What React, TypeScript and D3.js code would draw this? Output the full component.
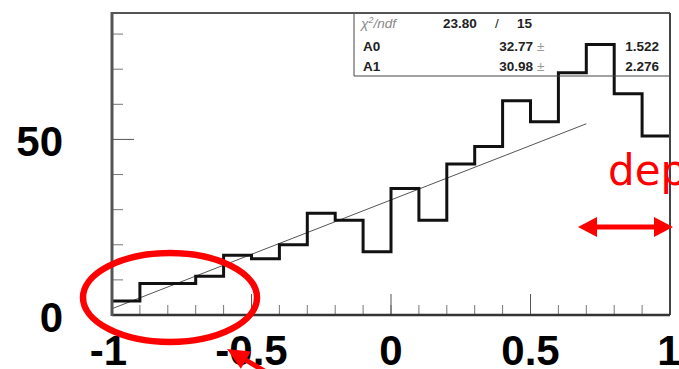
import React from "react";
import * as d3 from "d3";

const binEdges = d3.range(0, 21).map((i) => -1 + i * 0.1);
const counts = [4, 9, 9, 11, 17, 16, 20, 29, 27, 18, 36, 27, 43, 48, 61, 55, 69, 77, 63, 51];
const fitA0 = 32.77;
const fitA1 = 30.98;
const fitRange = [-1, 0.7];
const xTickLabels = [-1, -0.5, 0, 0.5, 1];
const yTickLabels = [0, 50];
const xMinorTicks = d3.range(1, 20).map((i) => -1 + i * 0.1);
const yMinorTicks = [10, 20, 30, 40, 60, 70, 80];
const statsRows = [
  { name: "A0", value: "32.77", err: "1.522" },
  { name: "A1", value: "30.98", err: "2.276" },
];
const chi2 = "23.80";
const ndf = "15";

const W = 679;
const H = 369;
const L = 112, R = 670, T = 13, B = 315;

export default function App() {
  const x = d3.scaleLinear().domain([-1, 1]).range([L, R]);
  const y = d3.scaleLinear().domain([0, 86]).range([B, T]);

  const stepPts: [number, number][] = [];
  counts.forEach((c, i) => {
    stepPts.push([x(binEdges[i]), y(c)]);
    stepPts.push([x(binEdges[i + 1]), y(c)]);
  });
  const stepPath = d3.line()(stepPts) || "";
  const fitPath =
    d3
      .line<number>()
      .x((d) => x(d))
      .y((d) => y(fitA0 + fitA1 * d))(fitRange) || "";

  const fmt = (v: number) => String(v);
  const lab = { fontFamily: "'Liberation Sans', Arial, sans-serif", fontWeight: 700, fontSize: 42, fill: "#000" } as const;
  const st = { fontFamily: "'Liberation Sans', Arial, sans-serif", fontWeight: 700, fontSize: 13.5, fill: "#222" } as const;

  // bottom arrow geometry
  const tip: [number, number] = [227, 349];
  const tail: [number, number] = [266, 372];
  const ang = Math.atan2(tail[1] - tip[1], tail[0] - tip[0]);
  const hl = 22, hw = 10;
  const bx = tip[0] + hl * Math.cos(ang), by = tip[1] + hl * Math.sin(ang);
  const head = [
    tip,
    [bx + hw * Math.sin(ang), by - hw * Math.cos(ang)],
    [bx - hw * Math.sin(ang), by + hw * Math.cos(ang)],
  ];

  const ay = 227;
  const ax1 = 578, ax2 = 673, ahl = 19, ahw = 10;

  return (
    <svg width={W} height={H} style={{ position: "fixed", left: 0, top: 0, background: "#fff" }}>
      <rect x={0} y={0} width={W} height={H} fill="#fff" />
      {/* y ticks */}
      {yMinorTicks.map((v) => (
        <line key={"ym" + v} x1={L} x2={L + 11} y1={y(v)} y2={y(v)} stroke="#777" strokeWidth={1} />
      ))}
      {yTickLabels.map((v) => (
        <line key={"yM" + v} x1={L} x2={L + 22} y1={y(v)} y2={y(v)} stroke="#555" strokeWidth={1} />
      ))}
      {/* x ticks */}
      {xMinorTicks.map((v) => (
        <line key={"xm" + v} x1={x(v)} x2={x(v)} y1={B} y2={B - 10} stroke="#777" strokeWidth={1} />
      ))}
      {xTickLabels.map((v) => (
        <line key={"xM" + v} x1={x(v)} x2={x(v)} y1={B} y2={B - 21} stroke="#555" strokeWidth={1} />
      ))}
      {/* fit line */}
      <path d={fitPath} fill="none" stroke="#555" strokeWidth={1} />
      {/* histogram */}
      <path d={stepPath} fill="none" stroke="#111" strokeWidth={3} strokeLinejoin="miter" />
      {/* stats box */}
      <line x1={354} x2={354} y1={T} y2={76} stroke="#444" strokeWidth={1} />
      <line x1={354} x2={R} y1={76} y2={76} stroke="#444" strokeWidth={1} />
      <text x={361} y={28} style={{ ...st, fontWeight: 400, fontStyle: "italic", fill: "#888" }}>
        χ<tspan dy={-5} fontSize={9}>2</tspan>
        <tspan dy={5}>/ndf</tspan>
      </text>
      <text x={443} y={28} style={st}>{chi2}</text>
      <text x={497} y={28} style={{ ...st, fontWeight: 400 }} textAnchor="middle">/</text>
      <text x={517} y={28} style={st}>{ndf}</text>
      {statsRows.map((r, i) => (
        <g key={r.name}>
          <text x={363} y={51 + i * 20} style={st}>{r.name}</text>
          <text x={533} y={51 + i * 20} style={st} textAnchor="end">{r.value}</text>
          <text x={537} y={51 + i * 20} style={{ ...st, fontWeight: 400, fill: "#999" }}>±</text>
          <text x={659} y={51 + i * 20} style={st} textAnchor="end">{r.err}</text>
        </g>
      ))}
      {/* frame */}
      <line x1={L} x2={R} y1={T} y2={T} stroke="#555" strokeWidth={2} />
      <line x1={R} x2={R} y1={T} y2={B} stroke="#444" strokeWidth={2} />
      <line x1={L} x2={R} y1={B} y2={B} stroke="#333" strokeWidth={2.5} />
      <line x1={L} x2={L} y1={T - 1} y2={B + 1} stroke="#555" strokeWidth={3} />
      {/* axis labels */}
      {yTickLabels.map((v) => (
        <text key={"yl" + v} x={63} y={y(v) + 17} textAnchor="end" style={lab}>{fmt(v)}</text>
      ))}
      {xTickLabels.map((v) => (
        <text key={"xl" + v} x={x(v) - (v === -1 ? 3.5 : v === 1 ? 1 : 0)} y={365} textAnchor="middle" style={lab}>{fmt(v)}</text>
      ))}
      {/* red annotations */}
      <ellipse cx={170} cy={297.5} rx={87} ry={44.5} fill="none" stroke="#f00" strokeWidth={6.5} />
      <line x1={tail[0]} y1={tail[1]} x2={bx} y2={by} stroke="#f00" strokeWidth={5} />
      <polygon points={head.map((p) => p.join(",")).join(" ")} fill="#f00" />
      <text x={608} y={185} style={{ fontFamily: "'DejaVu Sans', sans-serif", fontSize: 42, fill: "#f00" }}>dep</text>
      <line x1={ax1 + ahl} x2={ax2 - ahl} y1={ay} y2={ay} stroke="#f00" strokeWidth={5} />
      <polygon points={`${ax1},${ay} ${ax1 + ahl},${ay - ahw} ${ax1 + ahl},${ay + ahw}`} fill="#f00" />
      <polygon points={`${ax2},${ay} ${ax2 - ahl},${ay - ahw} ${ax2 - ahl},${ay + ahw}`} fill="#f00" />
    </svg>
  );
}
